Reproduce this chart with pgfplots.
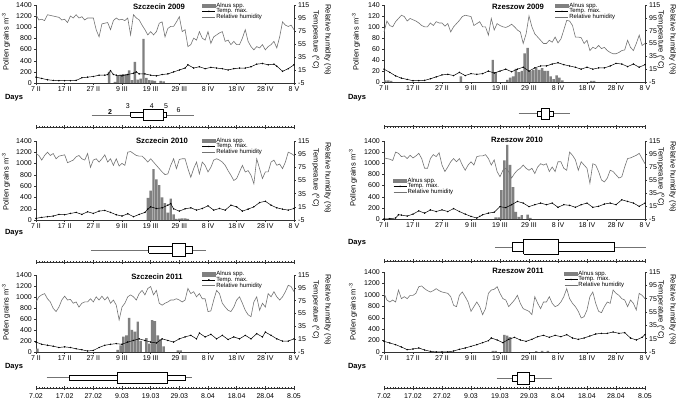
\documentclass[border=0pt]{standalone}
\usepackage{fontspec}
\setmainfont{Liberation Sans}
\usepackage{pgfplots}
\pgfplotsset{compat=1.18}
\definecolor{bargray}{gray}{0.5}
\definecolor{rhgray}{gray}{0.45}
\pgfplotsset{
  common/.style={scale only axis, xmin=0, xmax=90, clip=false,
    tick align=outside, major tick length=2pt,
    every tick/.style={black!80, line width=0.4pt},
    axis line style={black!80, line width=0.5pt},
    tick label style={font=\fontsize{7}{8}\selectfont},
    /pgf/number format/assume math mode=true,
    /pgf/number format/1000 sep={},
    scaled y ticks=false},
  mainax/.style={common,
    axis x line*=bottom, axis y line*=left,
    xtick={0,10,...,90},
    xticklabels={7 II,17 II,27 II,9 III,19 III,29 III,8 IV,18 IV,28 IV,8 V},
    ymin=0, ymax=1400, ytick={0,200,...,1400},
    xticklabel style={inner sep=1.5pt},
    yticklabel style={inner sep=2pt}},
  secax/.style={common, hide x axis,
    axis y line*=right, ymin=-5, ymax=115, ytick={-5,15,...,115},
    yticklabel style={inner sep=2pt},
    legend style={draw=none, fill=none, font=\fontsize{6}{6.5}\selectfont,
      anchor=north west, inner sep=0pt, row sep=-1.2pt,
      nodes={inner sep=0.6pt}},
    legend cell align=left,
    legend image code/.code={\draw[mark repeat=2,mark phase=2,##1] plot coordinates {(0pt,0pt) (6.5pt,0pt) (13pt,0pt)};}},
  boxax/.style={scale only axis, xmin=0, xmax=90, ymin=0, ymax=24, height=24pt,
    hide y axis, axis x line*=bottom, clip=false,
    xtick={0,10,...,90}, minor x tick num=9, xticklabels={},
    tick align=center, major tick length=4pt, minor tick length=2pt,
    every tick/.style={black!80, line width=0.4pt},
    axis line style={black!80, line width=0.5pt},
    tick label style={font=\fontsize{7}{8}\selectfont}},
  bars/.style={ybar, bar width=0.85, bar shift=0pt, fill=bargray, draw=none},
  temp/.style={black, line width=0.5pt, mark=*, mark size=0.45pt},
  rh/.style={rhgray, line width=0.6pt, no marks},
  whisk/.style={black!55, line width=0.6pt},
  bx/.style={black, line width=0.9pt, fill=white, line join=miter},
}
\newcommand{\legbar}{\addlegendimage{legend image code/.code={\fill[bargray] (0pt,-1.8pt) rectangle (13pt,1.8pt);}}\addlegendentry{Alnus spp.}}
\newcommand{\ylab}[2]{\node[rotate=90, font=\fontsize{7.5}{8}\selectfont] at (#1,#2) {Pollen grains m\textsuperscript{-3}};}
\newcommand{\rlab}[2]{\node[rotate=-90, align=center, font=\fontsize{7.5}{12}\selectfont] at (#1,#2) {Relative humidity (\%)\\Temperature (\textsuperscript{o}C)};}
\newcommand{\ttl}[3]{\node[font=\bfseries\fontsize{7.7}{8}\selectfont] at (#1,#2) {#3};}
\newcommand{\days}[2]{\node[font=\bfseries\fontsize{7.5}{8}\selectfont] at (#1,#2) {Days};}
\begin{document}
\begin{tikzpicture}
\useasboundingbox (0pt,0pt) rectangle (685pt,404pt);
%================ Szczecin 2009
\begin{axis}[mainax, at={(36pt,321pt)}, anchor=south west, width=258pt, height=78pt]
\addplot[bars] coordinates {(25.5,200)(27.5,20)(28.5,130)(29.5,150)(30.5,160)(31.5,160)(32.5,225)(33.5,50)(34.5,380)(35.5,60)(36.5,80)(37.5,790)(38.5,90)(39.5,50)(40.5,45)(41.5,40)(43.5,40)(44.5,30)};
\end{axis}
\begin{axis}[secax, at={(36pt,321pt)}, anchor=south west, width=258pt, height=78pt, legend style={at={(0.643,1.04)}}]
\legbar
\addplot[temp] coordinates {(0,4)(2,2)(4,0)(6,-1)(8,-1.5)(10,-1.5)(12,-1.5)(14,-1)(16,3)(18,4)(20,5)(22,7)(24,7)(25,8)(26,14)(27,8)(28,7)(30,6)(32,8)(34,10)(35,12)(36,9)(38,9)(40,7)(42,6)(44,8)(46,9)(48,12)(50,15)(52,18)(53,23)(55,18)(57,20)(59,17)(61,19)(63,18)(65,17)(67,15)(69,17)(71,18)(73,18)(75,20)(77,24)(79,25)(81,23)(83,24)(84,21)(86,13)(88,17)(90,23)};
\addlegendentry{Temp. max.}
\addplot[rh] table[x expr=\coordindex, y index=0, header=false, row sep=\\] {100\\92\\93\\91\\100\\99\\98\\97\\96\\92\\93\\88\\98\\95\\100\\95\\97\\92\\95\\95\\95\\77\\66\\86\\87\\88\\77\\91\\95\\92\\93\\91\\95\\69\\100\\95\\92\\84\\77\\69\\74\\69\\74\\87\\89\\66\\79\\82\\82\\89\\97\\74\\77\\51\\54\\64\\61\\74\\64\\61\\74\\56\\66\\69\\72\\74\\59\\61\\54\\59\\54\\54\\64\\77\\59\\51\\46\\51\\49\\54\\46\\51\\54\\59\\49\\66\\89\\84\\82\\84\\77\\};
\addlegendentry{Relative humidity}
\end{axis}
\begin{axis}[boxax, at={(36pt,277pt)}, anchor=south west, width=258pt]
\addplot[whisk] coordinates {(19.4,12)(55,12)};
\addplot[bx] coordinates {(33,9.7)(45.6,9.7)(45.6,14.7)(33,14.7)(33,9.7)};
\addplot[bx] coordinates {(37.4,6.3)(44.4,6.3)(44.4,18)(37.4,18)(37.4,6.3)};
\node[font=\bfseries\fontsize{7}{8}\selectfont] at (axis cs:25.8,15) {2};
\node[font=\fontsize{7}{8}\selectfont] at (axis cs:32,21) {3};
\node[font=\fontsize{7}{8}\selectfont] at (axis cs:40.4,21) {4};
\node[font=\fontsize{7}{8}\selectfont] at (axis cs:45.4,21) {5};
\node[font=\fontsize{7}{8}\selectfont] at (axis cs:49.7,17) {6};
\end{axis}
\ttl{159pt}{397pt}{Szczecin 2009}
\days{14pt}{306pt}
\ylab{6pt}{362pt}
\rlab{321.5pt}{364pt}
%================ Rzeszow 2009
\begin{axis}[mainax, at={(384pt,322pt)}, anchor=south west, width=261pt, height=77pt, ymax=140, ytick={0,20,...,140}]
\addplot[bars] coordinates {(0.5,3)(1.5,3)(2.5,2)(26.5,10)(37.5,40)(38.5,18)(42.5,4)(43.5,8)(44.5,10)(45.5,24)(46.5,18)(47.5,20)(48.5,52)(49.5,62)(50.5,20)(51.5,22)(52.5,25)(53.5,22)(54.5,25)(55.5,20)(56.5,20)(57.5,10)(58.5,5)(59.5,12)(60.5,8)(61.5,3)(71.5,2)(72.5,2)};
\end{axis}
\begin{axis}[secax, at={(384pt,322pt)}, anchor=south west, width=261pt, height=77pt, legend style={at={(0.655,1.04)}}]
\legbar
\addplot[temp] coordinates {(0,15)(2,10)(4,4.5)(6,1)(8,-1)(10,-3)(12,-3)(14,-2.5)(16,0)(18,3)(20,6)(22,7)(24,5)(26,10)(28,5)(30,8)(32,7)(34,8)(36,12)(38,9)(40,12)(42,15)(44,11)(46,15)(48,18)(50,12)(52,17)(54,20)(56,20)(58,23)(60,25)(62,22)(64,20)(66,18)(68,15)(70,18)(72,15)(74,17)(76,17)(78,20)(80,24)(82,23)(84,19)(86,23)(88,18)(90,22)};
\addlegendentry{Temp. max.}
\addplot[rh] table[x expr=\coordindex, y index=0, header=false, row sep=\\] {73\\90\\83\\81\\89\\94\\99\\97\\90\\94\\92\\90\\87\\83\\81\\81\\87\\83\\89\\87\\87\\82\\86\\73\\81\\86\\91\\97\\99\\98\\97\\83\\86\\89\\81\\81\\68\\94\\76\\86\\83\\81\\80\\82\\85\\81\\76\\73\\55\\70\\98\\81\\70\\65\\60\\55\\55\\60\\57\\65\\56\\62\\76\\91\\90\\83\\65\\65\\64\\55\\60\\44\\49\\47\\52\\47\\49\\44\\41\\39\\39\\41\\44\\45\\60\\49\\44\\55\\68\\52\\55\\};
\addlegendentry{Relative humidity}
\end{axis}
\begin{axis}[boxax, at={(384pt,277.3pt)}, anchor=south west, width=261pt]
\addplot[whisk] coordinates {(46.4,13.4)(64.1,13.4)};
\addplot[bx] coordinates {(52.9,10)(58.3,10)(58.3,15.7)(52.9,15.7)(52.9,10)};
\addplot[bx] coordinates {(54.3,7.7)(57.2,7.7)(57.2,18.4)(54.3,18.4)(54.3,7.7)};
\end{axis}
\ttl{518pt}{397pt}{Rzeszow 2009}
\days{357pt}{306pt}
\ylab{356pt}{362pt}
\rlab{666.5pt}{364pt}
%================ Szczecin 2010
\begin{axis}[mainax, at={(36pt,184pt)}, anchor=south west, width=258pt, height=79pt]
\addplot[bars] coordinates {(39,390)(40,520)(41,900)(42,720)(43,620)(44,400)(45,300)(46,130)(47,380)(48,100)(49,20)(50,25)(51,30)(52,30)(53,20)};
\end{axis}
\begin{axis}[secax, at={(36pt,184pt)}, anchor=south west, width=258pt, height=79pt, legend style={at={(0.643,1.05)}}]
\legbar
\addplot[temp] coordinates {(0,-2.5)(2,-1)(4,0)(6,1)(8,3.5)(10,3)(12,5)(14,6.5)(16,3.5)(18,7.5)(20,5)(22,8.5)(24,9.5)(26,6.5)(28,3)(30,1)(32,4.5)(34,0)(36,3.5)(38,6.5)(39,11.5)(40,15)(42,12.5)(44,13.5)(46,17.5)(47,20)(48,12)(50,8.5)(52,12)(54,13.5)(56,10)(58,12.5)(60,16.5)(62,10)(64,12.5)(66,10)(68,17.5)(70,15)(72,8.5)(74,11.5)(76,15)(78,21.5)(80,23.5)(82,17.5)(84,13.5)(86,11.5)(88,10)(90,12.5)};
\addlegendentry{Temp. max.}
\addplot[rh] table[x expr=\coordindex, y index=0, header=false, row sep=\\] {96\\93\\86\\93\\98\\93\\96\\88\\92\\93\\94\\82\\84\\86\\91\\93\\88\\86\\96\\75\\86\\88\\83\\88\\94\\83\\88\\78\\88\\77\\81\\78\\98\\99\\96\\93\\92\\92\\88\\83\\88\\83\\78\\73\\68\\64\\65\\78\\88\\73\\87\\88\\88\\73\\60\\73\\83\\65\\83\\78\\68\\75\\86\\88\\86\\83\\78\\70\\63\\55\\58\\68\\78\\68\\70\\63\\50\\88\\73\\58\\68\\68\\83\\86\\78\\80\\73\\83\\98\\96\\93\\};
\addlegendentry{Relative humidity}
\end{axis}
\begin{axis}[boxax, at={(36pt,142pt)}, anchor=south west, width=258pt]
\addplot[whisk] coordinates {(19.1,12)(59.2,12)};
\addplot[bx] coordinates {(39.4,8.7)(54.7,8.7)(54.7,15.3)(39.4,15.3)(39.4,8.7)};
\addplot[bx] coordinates {(47.7,5.3)(52.1,5.3)(52.1,18.7)(47.7,18.7)(47.7,5.3)};
\end{axis}
\ttl{162pt}{263pt}{Szczecin 2010}
\days{14pt}{171pt}
\ylab{6pt}{222pt}
\rlab{321.5pt}{226pt}
%================ Rzeszow 2010
\begin{axis}[mainax, at={(384pt,185pt)}, anchor=south west, width=261pt, height=78pt]
\addplot[bars] coordinates {(38.5,30)(39.5,30)(40.5,520)(41.5,1050)(42.5,1330)(43.5,970)(44.5,570)(45.5,130)(46.5,40)(47.5,70)(49.5,80)(50.5,20)};
\end{axis}
\begin{axis}[secax, at={(384pt,185pt)}, anchor=south west, width=261pt, height=78pt, legend style={at={(0.035,0.54)}}]
\legbar
\addplot[temp] coordinates {(0,-5)(2,-4.5)(4,-3.5)(5,1.5)(6,1)(8,-0.5)(10,2.5)(12,7.5)(14,4)(16,9)(18,6.5)(20,9)(22,6.5)(24,11)(26,6.5)(28,2.5)(30,-1)(32,-3.5)(33,-1)(34,1.5)(36,4)(38,5.5)(40,14)(42,12.5)(44,17)(46,22)(48,19.5)(50,14)(52,17)(54,19.5)(56,17)(58,19.5)(60,13)(62,17)(64,16)(66,13)(68,17)(70,19.5)(72,13)(74,14.5)(76,18)(78,19.5)(80,17)(82,24.5)(84,22)(86,19.5)(88,14.5)(90,19.5)};
\addlegendentry{Temp. max.}
\addplot[rh] table[x expr=\coordindex, y index=0, header=false, row sep=\\] {89\\88\\87\\85\\98\\96\\91\\92\\88\\93\\89\\92\\96\\88\\73\\73\\88\\94\\91\\97\\78\\68\\75\\83\\88\\83\\88\\78\\70\\78\\83\\78\\91\\92\\92\\94\\88\\78\\86\\68\\60\\70\\73\\68\\58\\65\\70\\73\\78\\73\\70\\73\\65\\75\\80\\78\\80\\68\\75\\68\\83\\83\\73\\70\\98\\93\\86\\70\\83\\78\\73\\50\\80\\78\\68\\55\\52\\58\\70\\68\\63\\58\\60\\75\\88\\89\\91\\93\\96\\88\\80\\};
\addlegendentry{Relative humidity}
\end{axis}
\begin{axis}[boxax, at={(384pt,143pt)}, anchor=south west, width=261pt]
\addplot[whisk] coordinates {(38.2,13.3)(90.5,13.3)};
\addplot[bx] coordinates {(44.3,9.3)(79.4,9.3)(79.4,18.3)(44.3,18.3)(44.3,9.3)};
\addplot[bx] coordinates {(48.2,6.7)(60.3,6.7)(60.3,22)(48.2,22)(48.2,6.7)};
\end{axis}
\ttl{517pt}{264pt}{Rzeszow 2010}
\days{357pt}{161pt}
\ylab{353pt}{226pt}
\rlab{666.5pt}{227pt}
%================ Szczecin 2011
\begin{axis}[mainax, at={(36pt,52pt)}, anchor=south west, width=258pt, height=77pt]
\addplot[bars] coordinates {(0.5,60)(28.5,40)(29.5,120)(30.5,280)(31.5,300)(32.5,620)(33.5,400)(34.5,370)(35.5,550)(36.5,200)(38.5,250)(39.5,150)(40.5,580)(41.5,560)(42.5,300)(43.5,230)(44.5,100)(49.5,30)(50.5,30)};
\end{axis}
\begin{axis}[secax, at={(36pt,52pt)}, anchor=south west, width=258pt, height=77pt, legend style={at={(0.643,1.06)}}]
\legbar
\addplot[temp] coordinates {(0,10.5)(2,7)(4,5.5)(6,4)(8,2)(10,3)(12,2)(14,0)(16,-1.5)(18,-3.5)(20,-2.5)(22,2)(24,5.5)(26,7)(28,8)(30,7)(32,10.5)(34,13)(36,15.5)(38,13)(40,10.5)(42,9)(44,15.5)(46,13)(48,10.5)(50,15.5)(52,18.5)(54,21)(56,15.5)(57,24.5)(59,18.5)(61,22.5)(63,15.5)(65,21)(67,14.5)(69,18.5)(71,15.5)(73,21)(75,15.5)(77,23.5)(79,18.5)(80,26)(82,21)(84,15.5)(86,12)(88,12)(90,15.5)};
\addlegendentry{Temp. max.}
\addplot[rh] table[x expr=\coordindex, y index=0, header=false, row sep=\\] {73\\81\\84\\86\\78\\73\\63\\58\\65\\76\\82\\76\\77\\71\\73\\65\\71\\73\\73\\78\\73\\81\\76\\82\\76\\81\\71\\76\\68\\45\\65\\71\\81\\84\\81\\76\\86\\91\\84\\94\\97\\84\\91\\71\\68\\71\\73\\76\\76\\78\\76\\73\\76\\94\\86\\89\\81\\86\\78\\78\\58\\59\\76\\91\\86\\71\\65\\60\\58\\65\\76\\81\\71\\60\\53\\50\\73\\81\\60\\71\\65\\86\\81\\89\\81\\76\\81\\89\\99\\97\\89\\};
\addlegendentry{Relative humidity}
\end{axis}
\begin{axis}[boxax, at={(36pt,16pt)}, anchor=south west, width=258pt,
  xticklabels={7.02,17.02,27.02,9.03,19.03,29.03,8.04,18.04,28.04,8.05}]
\addplot[whisk] coordinates {(3.7,10.7)(54.3,10.7)};
\addplot[bx] coordinates {(11.6,8)(52.2,8)(52.2,13)(11.6,13)(11.6,8)};
\addplot[bx] coordinates {(28.4,4.7)(45.8,4.7)(45.8,15.3)(28.4,15.3)(28.4,4.7)};
\end{axis}
\ttl{157pt}{127pt}{Szczecin 2011}
\days{14pt}{37pt}
\ylab{6pt}{91.5pt}
\rlab{321.5pt}{94pt}
%================ Rzeszow 2011
\begin{axis}[mainax, at={(384pt,52pt)}, anchor=south west, width=261pt, height=80pt]
\addplot[bars] coordinates {(37.5,20)(38.5,20)(41.5,300)(42.5,285)(43.5,260)(52.5,15)(54.5,20)(56.5,20)};
\end{axis}
\begin{axis}[secax, at={(384pt,52pt)}, anchor=south west, width=261pt, height=80pt, legend style={at={(0.69,1.025)}}]
\legbar
\addplot[temp] coordinates {(0,11)(2,8.5)(4,6)(6,2.5)(8,-1.5)(10,-0.5)(12,1)(14,-2)(16,-4)(18,-5)(20,-5)(22,-5)(24,-3.5)(26,-1)(28,1)(30,3.5)(32,6)(34,9)(36,12)(37,16)(39,13)(41,9)(43,14)(45,17)(47,13)(49,11)(51,14)(53,18)(55,20)(57,17)(59,20)(61,18)(63,21)(65,16)(67,14)(69,16)(71,19)(73,22)(75,23)(77,23)(79,25)(81,23)(83,24)(85,16)(87,13)(89,17)(90,21)};
\addlegendentry{Temp. max.}
\addplot[rh] table[x expr=\coordindex, y index=0, header=false, row sep=\\] {83\\73\\70\\73\\70\\88\\75\\78\\75\\80\\80\\83\\93\\94\\90\\87\\85\\87\\90\\87\\85\\84\\83\\78\\65\\63\\80\\85\\78\\70\\56\\63\\70\\63\\51\\60\\83\\88\\89\\93\\83\\75\\73\\63\\68\\73\\80\\68\\60\\58\\56\\51\\78\\68\\60\\70\\70\\78\\68\\63\\65\\70\\78\\90\\75\\68\\63\\56\\46\\48\\58\\78\\85\\68\\56\\54\\63\\70\\68\\88\\83\\80\\75\\73\\63\\73\\68\\58\\83\\80\\75\\};
\addlegendentry{Relative humidity}
\end{axis}
\begin{axis}[boxax, at={(384pt,15.7pt)}, anchor=south west, width=261pt,
  xticklabels={7.02,17.02,27.02,9.03,19.03,29.03,8.04,18.04,28.04,8.05}]
\addplot[whisk] coordinates {(38.8,10)(57.8,10)};
\addplot[bx] coordinates {(44.3,7.3)(51.8,7.3)(51.8,12.6)(44.3,12.6)(44.3,7.3)};
\addplot[bx] coordinates {(46,4.3)(50.1,4.3)(50.1,15.6)(46,15.6)(46,4.3)};
\end{axis}
\ttl{518pt}{133pt}{Rzeszow 2011}
\days{357pt}{37pt}
\ylab{353pt}{92pt}
\rlab{666.5pt}{94pt}
\end{tikzpicture}
\end{document}
